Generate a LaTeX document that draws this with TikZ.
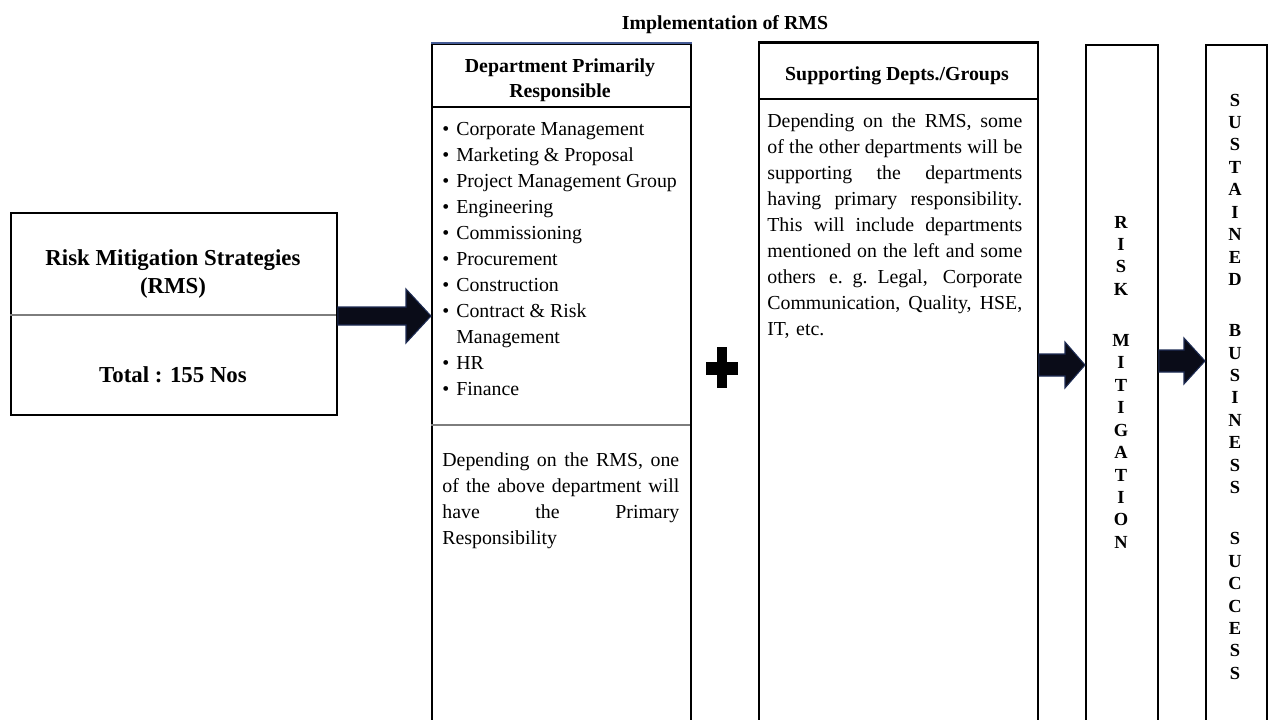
\documentclass[tikz,border=0pt]{standalone}
\usepackage{fontspec}
\setmainfont{Liberation Serif}
\usepackage{tikz}
\usetikzlibrary{calc}

\definecolor{arrowfill}{RGB}{10,12,24}
\definecolor{arrowedge}{RGB}{30,44,84}
\definecolor{topblue}{RGB}{70,92,150}
\definecolor{rulegray}{RGB}{125,125,125}

% one justified line of a fixed-width paragraph
\newcommand{\jl}[1]{\leavevmode\hbox to \linewidth{\spaceskip=\fontdimen2\font plus 1fil #1}\\}

% fat arrow: from, to, half body, half head, head length (all in px units)
\newcommand{\blockarrow}[5]{%
  \draw[arrowbody] ($(#1)+(0,-#3)$) -- ($(#2)+(-#5,-#3)$) -- ($(#2)+(-#5,-#4)$)
    -- (#2) -- ($(#2)+(-#5,#4)$) -- ($(#2)+(-#5,#3)$) -- ($(#1)+(0,#3)$) -- cycle;}

\tikzset{
  box/.style={draw, line width=1.1pt, inner sep=0pt, anchor=north west},
  body/.style={font=\fontsize{11.3}{14.8}\selectfont, inner sep=0pt},
  head/.style={font=\bfseries\fontsize{11.3}{14.2}\selectfont, inner sep=0pt, align=center},
  big/.style={font=\bfseries\fontsize{13}{15.4}\selectfont, inner sep=0pt, align=center},
  letters/.style={font=\bfseries\fontsize{10.5}{12.8}\selectfont, inner sep=0pt, anchor=base},
  arrowbody/.style={fill=arrowfill, draw=arrowedge, line width=0.6pt}
}

\begin{document}
\begin{tikzpicture}[x=0.02cm,y=-0.02cm]

\useasboundingbox (0,0) rectangle (1272,720);

\node [head] (title) at (725,25) {Implementation of RMS};

% strategies box
\node [box, minimum width=6.52cm, minimum height=4.04cm] (rms) at (10,212) {};
\draw [rulegray, line width=1.7pt] (rms.north west) ++(0,103) -- ++(326,0);
\node [big] (rmsname) at (173,274) {Risk Mitigation Strategies\\(RMS)};
\node [big] (total) at (173,375) {Total : 155 Nos};

% primary department
\node [box, minimum width=5.18cm, minimum height=13.8cm] (dept) at (431,43) {};
\draw [topblue, line width=1.1pt] (dept.north west) -- (dept.north east);
\draw [line width=1.1pt] (dept.north west) ++(0,64) -- ++(259,0);
\draw [rulegray, line width=1.1pt] (dept.north west) ++(0,382) -- ++(259,0);
\node [head] (depthead) at (560,80) {Department Primarily\\Responsible};
\node [body, anchor=base west] (deptlist) at (442,135) {%
  \begin{tabular}[t]{@{}l@{\hspace{4pt}}l@{}}
  \textbullet & Corporate Management\\
  \textbullet & Marketing  \& Proposal\\
  \textbullet & Project Management  Group\\
  \textbullet & Engineering\\
  \textbullet & Commissioning\\
  \textbullet & Procurement\\
  \textbullet & Construction\\
  \textbullet & Contract  \& Risk\\
              & Management\\
  \textbullet & HR\\
  \textbullet & Finance
  \end{tabular}};
\node [body, text width=4.74cm, anchor=base west] (deptnote) at (442,466) {%
  \jl{Depending on the RMS, one}\jl{of the above department will}%
  \jl{have the Primary}Responsibility};

% plus sign
\coordinate (plus) at (722,368);
\fill (plus) +(-5,-21) rectangle +(5,20);
\fill (plus) +(-16,-6) rectangle +(16,7);

% supporting departments
\node [box, minimum width=5.58cm, minimum height=13.8cm] (supp) at (758,42) {};
\draw [line width=1.7pt] (supp.north west) -- (supp.north east);
\draw [line width=1.1pt] (supp.north west) ++(0,57) -- ++(279,0);
\node [head] (supphead) at (897,76) {Supporting Depts./Groups};
\node [body, text width=5.1cm, anchor=base west] (suppnote) at (767,127) {%
  \jl{Depending on the RMS, some}\jl{of the other departments will be}%
  \jl{supporting the departments}\jl{having primary responsibility.}%
  \jl{This will include departments}\jl{mentioned on the left and some}%
  \jl{others e. g. Legal, Corporate}\jl{Communication, Quality, HSE,}IT, etc.};

% outcome columns
\node [box, minimum width=1.44cm, minimum height=13.8cm] (risk) at (1085,44) {};
\node [box, minimum width=1.22cm, minimum height=13.8cm] (sbs) at (1205,44) {};
\node [letters] (riskword) at (1121,228) {%
  \begin{tabular}[t]{@{}c@{}}R\\I\\S\\K\\[16pt]M\\I\\T\\I\\G\\A\\T\\I\\O\\N\end{tabular}};
\node [letters] (sbsword) at (1235,106) {%
  \begin{tabular}[t]{@{}c@{}}S\\U\\S\\T\\A\\I\\N\\E\\D\\[16pt]B\\U\\S\\I\\N\\E\\S\\S\\[16pt]%
  S\\U\\C\\C\\E\\S\\S\end{tabular}};

% arrows
\coordinate (a1) at (0,316);
\coordinate (a2) at (0,365);
\coordinate (a3) at (0,361);
\blockarrow{rms.east |- a1}{dept.west |- a1}{9}{27}{25}
\blockarrow{supp.east |- a2}{risk.west |- a2}{11}{23}{20}
\blockarrow{risk.east |- a3}{sbs.west |- a3}{11}{23}{21}

\end{tikzpicture}
\end{document}
